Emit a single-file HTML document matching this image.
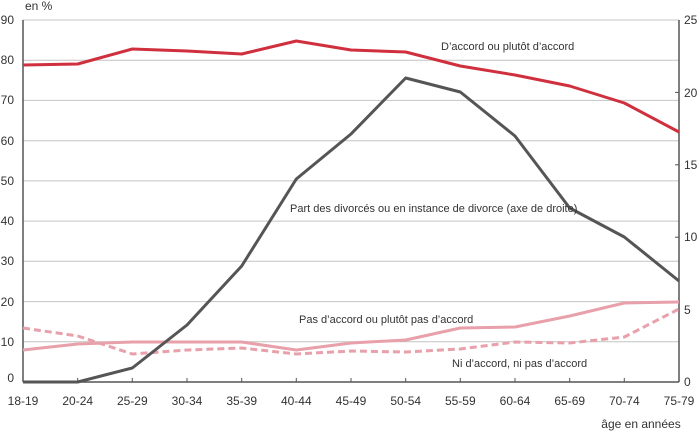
<!DOCTYPE html>
<html><head><meta charset="utf-8"><style>
html,body{margin:0;padding:0;background:#fff}
text{font-family:"Liberation Sans",sans-serif;fill:#333}
</style></head><body>
<svg width="700" height="432" viewBox="0 0 700 432" xmlns="http://www.w3.org/2000/svg">
<g stroke="#c4c4c4" stroke-width="1">
<line x1="23" x2="679" y1="20" y2="20"/><line x1="23" x2="679" y1="60.2" y2="60.2"/><line x1="23" x2="679" y1="100.4" y2="100.4"/><line x1="23" x2="679" y1="140.7" y2="140.7"/><line x1="23" x2="679" y1="180.9" y2="180.9"/><line x1="23" x2="679" y1="221.1" y2="221.1"/><line x1="23" x2="679" y1="261.3" y2="261.3"/><line x1="23" x2="679" y1="301.6" y2="301.6"/><line x1="23" x2="679" y1="341.8" y2="341.8"/>
</g>
<g stroke="#555" stroke-width="1.5" fill="none">
<line x1="23" y1="20" x2="23" y2="382"/><line x1="679" y1="20" x2="679" y2="382"/><line x1="23" y1="382" x2="679" y2="382"/>
</g>
<g stroke="#555" stroke-width="1">
<line x1="77.7" x2="77.7" y1="378" y2="382"/><line x1="132.3" x2="132.3" y1="378" y2="382"/><line x1="187" x2="187" y1="378" y2="382"/><line x1="241.7" x2="241.7" y1="378" y2="382"/><line x1="296.3" x2="296.3" y1="378" y2="382"/><line x1="351" x2="351" y1="378" y2="382"/><line x1="405.7" x2="405.7" y1="378" y2="382"/><line x1="460.3" x2="460.3" y1="378" y2="382"/><line x1="515" x2="515" y1="378" y2="382"/><line x1="569.7" x2="569.7" y1="378" y2="382"/><line x1="624.3" x2="624.3" y1="378" y2="382"/>
<line x1="675" x2="679" y1="92.4" y2="92.4"/><line x1="675" x2="679" y1="164.8" y2="164.8"/><line x1="675" x2="679" y1="237.2" y2="237.2"/><line x1="675" x2="679" y1="309.6" y2="309.6"/>
</g>
<g fill="none" stroke-width="3" stroke-linejoin="round">
<polyline stroke="#e8a0aa" stroke-dasharray="7,4" points="23,328 77.7,336 132.3,354 187,350 241.7,348 296.3,354 351,351 405.7,352 460.3,349 515,342 569.7,343 624.3,337 679,309"/>
<polyline stroke="#e8a0aa" points="23,350 77.7,344 132.3,342 187,342 241.7,342 296.3,350 351,343 405.7,340 460.3,328 515,327 569.7,316 624.3,303 679,302"/>
<polyline stroke="#555" points="23,382 77.7,382 132.3,368 187,325 241.7,266 296.3,179 351,134 405.7,78 460.3,92 515,136 569.7,208 624.3,237 679,281"/>
<polyline stroke="#d0303e" points="23,65 77.7,64 132.3,49 187,51 241.7,54 296.3,41 351,50 405.7,52 460.3,66 515,75 569.7,86 624.3,103 679,132"/>
</g>
<g font-size="12">
<text x="25" y="10">en %</text>
<g text-anchor="end">
<text x="14" y="24">90</text><text x="14" y="64">80</text><text x="14" y="104">70</text><text x="14" y="145">60</text><text x="14" y="185">50</text><text x="14" y="225">40</text><text x="14" y="265">30</text><text x="14" y="306">20</text><text x="14" y="346">10</text><text x="14" y="382">0</text>
</g>
<text x="684" y="24">25</text><text x="684" y="97">20</text><text x="684" y="169">15</text><text x="684" y="241">10</text><text x="684" y="314">5</text><text x="684" y="386">0</text>
<g text-anchor="middle">
<text x="23" y="405">18-19</text><text x="77.7" y="405">20-24</text><text x="132.3" y="405">25-29</text><text x="187" y="405">30-34</text><text x="241.7" y="405">35-39</text><text x="296.3" y="405">40-44</text><text x="351" y="405">45-49</text><text x="405.7" y="405">50-54</text><text x="460.3" y="405">55-59</text><text x="515" y="405">60-64</text><text x="569.7" y="405">65-69</text><text x="624.3" y="405">70-74</text><text x="679" y="405">75-79</text>
</g>
<text x="641" y="428" text-anchor="middle">âge en années</text>
</g>
<g font-size="11">
<text x="441" y="50">D’accord ou plutôt d’accord</text>
<text x="290" y="212">Part des divorcés ou en instance de divorce (axe de droite)</text>
<text x="299" y="323">Pas d’accord ou plutôt pas d’accord</text>
<text x="452" y="367">Ni d’accord, ni pas d’accord</text>
</g>
</svg>
</body></html>
